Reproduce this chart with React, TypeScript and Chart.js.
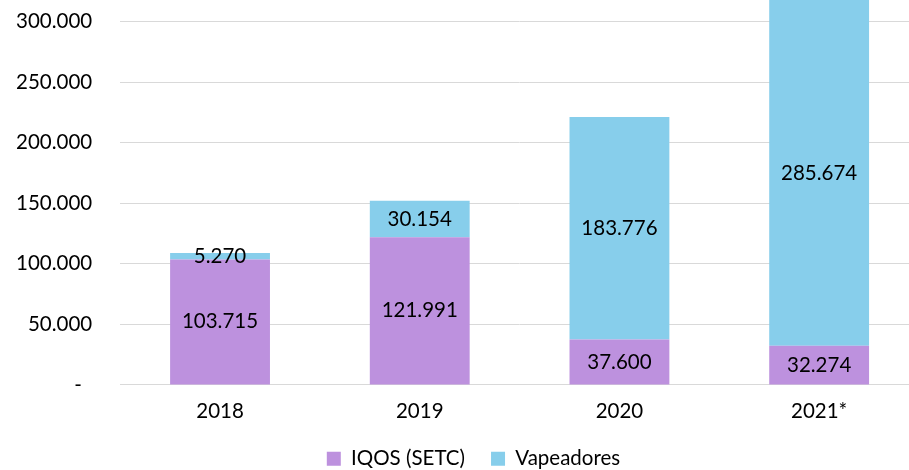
import React, { useEffect, useRef } from "react";
import { Chart, registerables } from "chart.js";

Chart.register(...registerables);

const categories = ["2018", "2019", "2020", "2021*"];
const iqosValues = [103715, 121991, 37600, 32274];
const vapeValues = [5270, 30154, 183776, 285674];
const seriesNames = ["IQOS (SETC)", "Vapeadores"];
const yTickValues = [0, 50000, 100000, 150000, 200000, 250000, 300000, 350000];

const PURPLE = "#BD91DE";
const BLUE = "#87CEEB";
const FONT_FAMILY = "Lato, 'Open Sans', sans-serif";
const FONT_SIZE = 20.5;
const LEGEND_SHIFT_X = 20;
const LEGEND_SHIFT_Y = -15;

function fmt(v: number): string {
  const s = Math.round(v).toString();
  return s.replace(/\B(?=(\d{3})+(?!\d))/g, ".");
}

const dataLabelPlugin = {
  id: "segLabels",
  afterLayout(chart: any) {
    const l = chart.legend;
    if (l) {
      l.left += LEGEND_SHIFT_X;
      l.right += LEGEND_SHIFT_X;
      l.top += LEGEND_SHIFT_Y;
      l.bottom += LEGEND_SHIFT_Y;
    }
  },
  afterDatasetsDraw(chart: any) {
    const ctx = chart.ctx;
    ctx.save();
    ctx.font = `${FONT_SIZE}px ${FONT_FAMILY}`;
    ctx.fillStyle = "#000000";
    ctx.textAlign = "center";
    ctx.textBaseline = "middle";
    chart.data.datasets.forEach((ds: any, di: number) => {
      const meta = chart.getDatasetMeta(di);
      meta.data.forEach((el: any, i: number) => {
        const v = ds.data[i];
        const y = (el.y + el.base) / 2;
        ctx.fillText(fmt(v), el.x, y);
      });
    });
    ctx.restore();
  },
};

export default function App() {
  const ref = useRef<HTMLCanvasElement | null>(null);
  useEffect(() => {
    if (!ref.current) return;
    const chart = new Chart(ref.current, {
      type: "bar",
      data: {
        labels: categories,
        datasets: [
          { label: seriesNames[0], data: iqosValues, backgroundColor: PURPLE, borderWidth: 0, categoryPercentage: 1, barPercentage: 0.5 },
          { label: seriesNames[1], data: vapeValues, backgroundColor: BLUE, borderWidth: 0, categoryPercentage: 1, barPercentage: 0.5 },
        ],
      },
      options: {
        animation: false,
        responsive: true,
        maintainAspectRatio: false,
        layout: { padding: { left: 10, right: 32, top: 0, bottom: 0 } },
        plugins: {
          legend: {
            position: "bottom",
            labels: {
              boxWidth: 14,
              boxHeight: 14,
              padding: 26,
              color: "#000",
              font: { family: FONT_FAMILY, size: FONT_SIZE },
            },
          },
          tooltip: { enabled: false },
        },
        scales: {
          x: {
            stacked: true,
            grid: { display: false, drawTicks: false },
            border: { display: true, color: "#d9d9d9", width: 1 },
            ticks: { color: "#000", padding: 14, font: { family: FONT_FAMILY, size: FONT_SIZE } },
          },
          y: {
            stacked: true,
            min: 0,
            max: 350000,
            afterBuildTicks: (scale: any) => {
              scale.ticks = yTickValues.map((v) => ({ value: v }));
            },
            grid: { color: "#d9d9d9", drawTicks: false, lineWidth: 1 },
            border: { display: false },
            ticks: {
              color: "#000",
              padding: 28,
              font: { family: FONT_FAMILY, size: FONT_SIZE },
              callback: (v: any) => (Number(v) === 0 ? "-\u2002" : fmt(Number(v))),
            },
          },
        },
      } as any,
      plugins: [dataLabelPlugin],
    });
    return () => chart.destroy();
  }, []);

  return (
    <div style={{ position: "fixed", left: 0, top: 0, width: 909, height: 470, overflow: "hidden", background: "#fff" }}>
      <div style={{ position: "absolute", left: -22, top: -79, width: 973, height: 573 }}>
        <canvas ref={ref} />
      </div>
    </div>
  );
}
